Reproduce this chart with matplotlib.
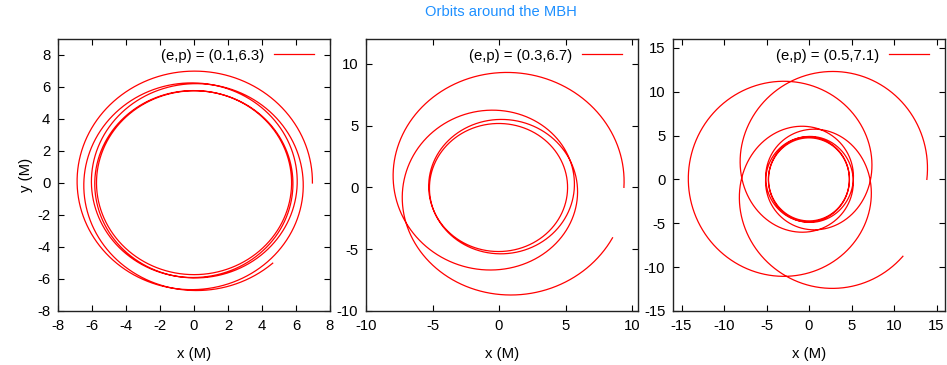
import numpy as np
import matplotlib.pyplot as plt

plt.rcParams["font.family"] = ["Liberation Sans", "DejaVu Sans"]
plt.rcParams["axes.unicode_minus"] = False

# orbital elements (eccentricity, semi-latus rectum) in units of M
ecc = [0.1, 0.3, 0.5]
semi_latus = [6.3, 6.7, 7.1]
# relativistic anomaly at the first and last point, measured from apoapsis
chi_start = [-0.30, -0.30, -0.22]
chi_end = [2 * np.pi - 0.70, 2 * np.pi - 0.235, 4 * np.pi - 0.12]

xlims = [(-8, 8), (-10, 10.45), (-16, 16)]
ylims = [(-8, 9), (-10, 12), (-15, 16)]
xticks = [np.arange(-8, 9, 2), np.arange(-10, 11, 5), np.arange(-15, 16, 5)]
yticks = [np.arange(-8, 9, 2), np.arange(-10, 11, 5), np.arange(-15, 16, 5)]

FS = 10.7


def geodesic_orbit(e, p, c0, c1, npts=20000):
    """Schwarzschild equatorial orbit, phi = 0 at the first point."""
    chi = np.pi + np.linspace(c0, c1, npts)
    r = p / (1 + e * np.cos(chi))
    dphi = np.sqrt(p / (p - 6 - 2 * e * np.cos(chi)))
    phi = np.concatenate(([0.0], np.cumsum(0.5 * (dphi[1:] + dphi[:-1]) * np.diff(chi))))
    return r * np.cos(phi), r * np.sin(phi)


fig = plt.figure(figsize=(9.47, 3.65), dpi=100)
lefts = [58, 366, 673]
for i in range(3):
    ax = fig.add_axes([lefts[i] / 947, 54 / 365, 272 / 947, 272 / 365])
    x, y = geodesic_orbit(ecc[i], semi_latus[i], chi_start[i], chi_end[i])
    ax.plot(x, y, color="#ff0000", lw=0.9,
            label="(e,p) = (%g,%g)" % (ecc[i], semi_latus[i]))
    ax.set_xlim(*xlims[i])
    ax.set_ylim(*ylims[i])
    ax.set_xticks(xticks[i])
    ax.set_yticks(yticks[i])
    ax.tick_params(direction="in", top=True, right=True, length=4,
                   width=0.8, labelsize=FS, pad=5.5)
    for s in ax.spines.values():
        s.set_linewidth(1.0)
        s.set_color("#222222")
    ax.set_xlabel("x (M)", fontsize=FS, labelpad=10.5)
    if i == 0:
        ax.set_ylabel("y (M)", fontsize=FS, labelpad=3)
    ax.legend(loc="upper right", bbox_to_anchor=(1 - 6 / 272, 1), frameon=False,
              fontsize=FS, markerfirst=False, handlelength=2.7,
              borderaxespad=0.25, handletextpad=0.65)

fig.text(501 / 947, 1 - 12 / 365, "Orbits around the MBH", color="#1e90ff",
         fontsize=10.6, ha="center", va="center")

fig.savefig("out.png", dpi=100)
